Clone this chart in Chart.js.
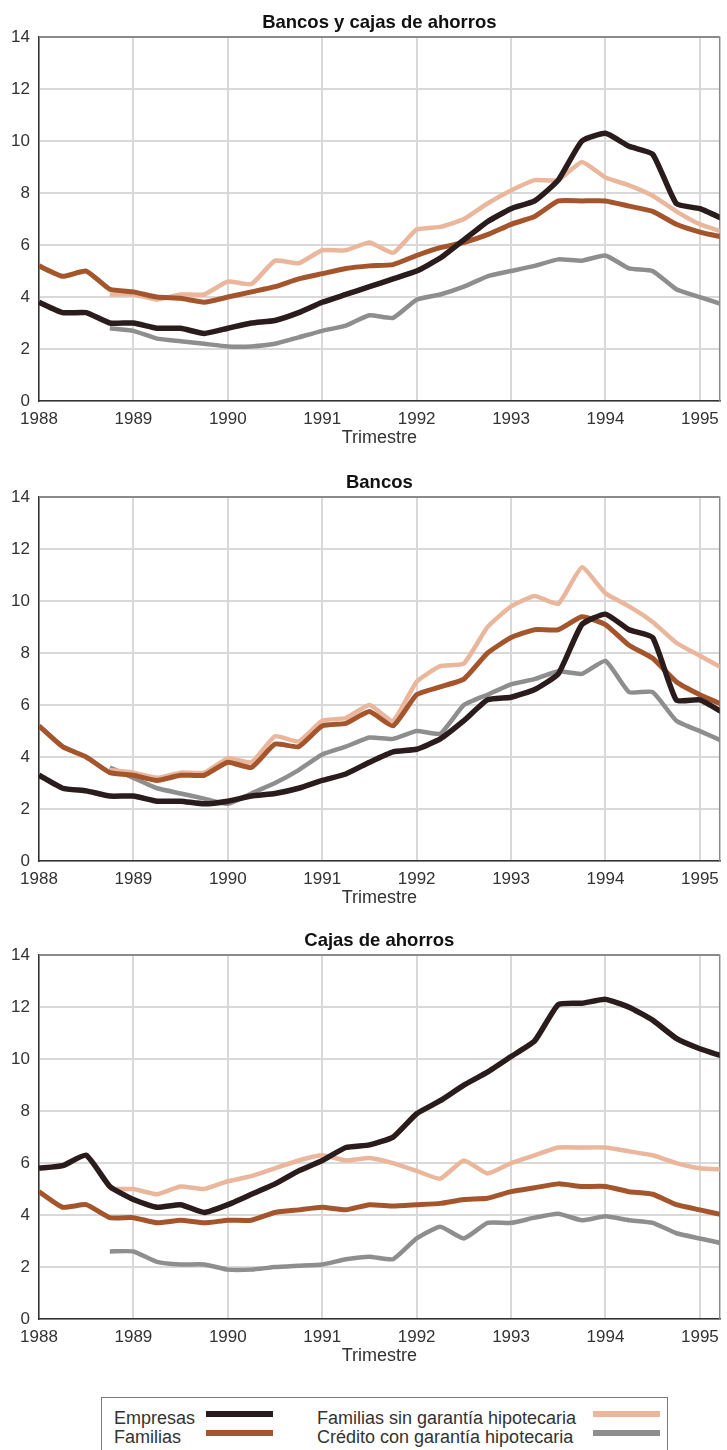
<!DOCTYPE html>
<html>
<head>
<meta charset="utf-8">
<script src="https://cdn.jsdelivr.net/npm/chart.js@4.4.1/dist/chart.umd.min.js"></script>
<style>
  body { margin: 0; background: #fff; width: 727px; height: 1450px; overflow: hidden; position: relative; }
  canvas { position: absolute; left: 0; }
  #legend {
    position: absolute; left: 101px; top: 1397px; width: 567px; height: 70px;
    border: 1px solid #7a7a7a; box-sizing: border-box;
    font: 18px "Liberation Sans", Arial, sans-serif; color: #333;
  }
  .item { position: absolute; line-height: 19px; white-space: nowrap; }
  .sw { position: absolute; height: 6px; }
</style>
</head>
<body>
<canvas id="chartTotal" width="727" height="447" style="top:0"></canvas>
<canvas id="chartBancos" width="727" height="447" style="top:460px"></canvas>
<canvas id="chartCajas" width="727" height="447" style="top:918px"></canvas>
<div id="legend"></div>

<script>
// trimestres 1988-I .. 1995-II
const quarters = [1988, 1988.25, 1988.5, 1988.75, 1989, 1989.25, 1989.5, 1989.75,
  1990, 1990.25, 1990.5, 1990.75, 1991, 1991.25, 1991.5, 1991.75,
  1992, 1992.25, 1992.5, 1992.75, 1993, 1993.25, 1993.5, 1993.75,
  1994, 1994.25, 1994.5, 1994.75, 1995, 1995.25];
const yearTicks = [1988, 1989, 1990, 1991, 1992, 1993, 1994, 1995];

const seriesNames = ["Empresas", "Familias", "Familias sin garantía hipotecaria", "Crédito con garantía hipotecaria"];
const seriesColors = ["#2a1c1c", "#a5552c", "#eab69c", "#8e8e8e"];

// Bancos y cajas de ahorros
const empresasTotal = [3.8, 3.4, 3.4, 3.0, 3.0, 2.8, 2.8, 2.6, 2.8, 3.0, 3.1, 3.4, 3.8, 4.1, 4.4, 4.7, 5.0, 5.5, 6.2, 6.9, 7.4, 7.7, 8.5, 10.0, 10.3, 9.8, 9.5, 7.6, 7.4, 7.0];
const familiasTotal = [5.2, 4.8, 5.0, 4.3, 4.2, 4.0, 3.95, 3.8, 4.0, 4.2, 4.4, 4.7, 4.9, 5.1, 5.2, 5.25, 5.6, 5.9, 6.1, 6.4, 6.8, 7.1, 7.7, 7.7, 7.7, 7.5, 7.3, 6.8, 6.5, 6.3];
const sinGarantiaTotal = [null, null, null, 4.1, 4.1, 3.9, 4.1, 4.1, 4.6, 4.5, 5.4, 5.3, 5.8, 5.8, 6.1, 5.7, 6.6, 6.7, 7.0, 7.6, 8.1, 8.5, 8.5, 9.2, 8.6, 8.3, 7.9, 7.3, 6.8, 6.5];
const hipotecarioTotal = [null, null, null, 2.8, 2.7, 2.4, 2.3, 2.2, 2.1, 2.1, 2.2, 2.45, 2.7, 2.9, 3.3, 3.2, 3.9, 4.1, 4.4, 4.8, 5.0, 5.2, 5.45, 5.4, 5.6, 5.1, 5.0, 4.3, 4.0, 3.7];

// Bancos
const empresasBancos = [3.3, 2.8, 2.7, 2.5, 2.5, 2.3, 2.3, 2.2, 2.3, 2.5, 2.6, 2.8, 3.1, 3.35, 3.8, 4.2, 4.3, 4.7, 5.4, 6.2, 6.3, 6.6, 7.2, 9.1, 9.5, 8.9, 8.6, 6.2, 6.2, 5.7];
const familiasBancos = [5.2, 4.4, 4.0, 3.4, 3.3, 3.1, 3.3, 3.3, 3.8, 3.6, 4.5, 4.4, 5.2, 5.3, 5.75, 5.2, 6.4, 6.7, 7.0, 8.0, 8.6, 8.9, 8.9, 9.4, 9.1, 8.3, 7.8, 6.9, 6.4, 6.0];
const sinGarantiaBancos = [null, null, null, 3.5, 3.4, 3.2, 3.4, 3.4, 3.95, 3.8, 4.8, 4.6, 5.4, 5.5, 6.0, 5.4, 6.9, 7.5, 7.6, 9.0, 9.8, 10.2, 9.9, 11.3, 10.3, 9.8, 9.2, 8.4, 7.9, 7.4];
const hipotecarioBancos = [null, null, null, 3.6, 3.2, 2.8, 2.6, 2.4, 2.2, 2.6, 3.0, 3.5, 4.1, 4.4, 4.75, 4.7, 5.0, 4.9, 6.0, 6.4, 6.8, 7.0, 7.3, 7.2, 7.7, 6.5, 6.5, 5.4, 5.0, 4.6];

// Cajas de ahorros
const empresasCajas = [5.8, 5.9, 6.3, 5.1, 4.6, 4.3, 4.4, 4.1, 4.4, 4.8, 5.2, 5.7, 6.1, 6.6, 6.7, 7.0, 7.9, 8.4, 9.0, 9.5, 10.1, 10.7, 12.1, 12.15, 12.3, 12.0, 11.5, 10.8, 10.4, 10.1];
const familiasCajas = [4.9, 4.3, 4.4, 3.9, 3.9, 3.7, 3.8, 3.7, 3.8, 3.8, 4.1, 4.2, 4.3, 4.2, 4.4, 4.35, 4.4, 4.45, 4.6, 4.65, 4.9, 5.05, 5.2, 5.1, 5.1, 4.9, 4.8, 4.4, 4.2, 4.0];
const sinGarantiaCajas = [null, null, null, 5.0, 5.0, 4.8, 5.1, 5.0, 5.3, 5.5, 5.8, 6.1, 6.3, 6.1, 6.2, 6.0, 5.7, 5.4, 6.1, 5.6, 6.0, 6.3, 6.6, 6.6, 6.6, 6.45, 6.3, 6.0, 5.8, 5.75];
const hipotecarioCajas = [null, null, null, 2.6, 2.6, 2.2, 2.1, 2.1, 1.9, 1.9, 2.0, 2.05, 2.1, 2.3, 2.4, 2.3, 3.1, 3.55, 3.1, 3.7, 3.7, 3.9, 4.05, 3.8, 3.95, 3.8, 3.7, 3.3, 3.1, 2.9];

const FONT = '"Liberation Sans", Arial, sans-serif';
const widths = [5.5, 5, 4.5, 4.5];

// marco superior y derecho del area de trazado
const framePlugin = {
  id: "frame",
  beforeDatasetsDraw(chart) {
    const { ctx, chartArea: a } = chart;
    ctx.save();
    ctx.strokeStyle = "#8a8a8a";
    ctx.lineWidth = 1.5;
    ctx.beginPath();
    ctx.moveTo(a.left, a.top);
    ctx.lineTo(a.right, a.top);
    ctx.lineTo(a.right, a.bottom);
    ctx.stroke();
    ctx.restore();
  },
};

function makeChart(canvasId, title, values) {
  const ctx = document.getElementById(canvasId).getContext("2d");
  return new Chart(ctx, {
    type: "line",
    data: {
      datasets: values.map((vals, i) => ({
        label: seriesNames[i],
        data: quarters.map((q, j) => ({ x: q, y: vals[j] })),
        borderColor: seriesColors[i],
        borderWidth: widths[i],
        pointRadius: 0,
        tension: 0.15,
        borderJoinStyle: "round",
        clip: 0,
      })),
    },
    options: {
      responsive: false,
      animation: false,
      layout: { padding: { left: 0, right: 4, top: 0, bottom: 0 } },
      plugins: {
        legend: { display: false },
        tooltip: { enabled: false },
        title: {
          display: true,
          fullSize: false,
          text: title,
          color: "#111",
          font: { family: FONT, size: 18.5, weight: "bold" },
          padding: { top: 12, bottom: 3 },
        },
      },
      scales: {
        x: {
          type: "linear",
          min: 1988,
          max: 1995.21,
          afterBuildTicks: (scale) => {
            scale.ticks = yearTicks.map((v) => ({ value: v }));
          },
          afterFit: (scale) => { scale.height = 46; },
          ticks: {
            callback: (v) => String(v),
            color: "#333",
            padding: 8,
            maxRotation: 0,
            autoSkip: false,
            font: { family: FONT, size: 17 },
          },
          grid: { color: "#d9d9d9", lineWidth: 2, drawTicks: false },
          border: { color: "#333", width: 1.5 },
          title: {
            display: true,
            text: "Trimestre",
            color: "#333",
            font: { family: FONT, size: 18, lineHeight: 1 },
            padding: { top: 0, bottom: 0 },
          },
        },
        y: {
          min: 0,
          max: 14,
          afterFit: (scale) => { scale.width = 39; },
          ticks: {
            stepSize: 2,
            color: "#333",
            padding: 9,
            font: { family: FONT, size: 17 },
          },
          grid: {
            color: (c) => (c.tick && c.tick.value === 14 ? "#8a8a8a" : "#d9d9d9"),
            lineWidth: (c) => (c.tick && c.tick.value === 14 ? 1.5 : 2),
            drawTicks: false,
          },
          border: { color: "#333", width: 1.5 },
        },
      },
    },
    plugins: [framePlugin],
  });
}

makeChart("chartTotal", "Bancos y cajas de ahorros", [empresasTotal, familiasTotal, sinGarantiaTotal, hipotecarioTotal]);
makeChart("chartBancos", "Bancos", [empresasBancos, familiasBancos, sinGarantiaBancos, hipotecarioBancos]);
makeChart("chartCajas", "Cajas de ahorros", [empresasCajas, familiasCajas, sinGarantiaCajas, hipotecarioCajas]);

// leyenda
const legend = document.getElementById("legend");
const legendSlots = [
  { text: [12, 11], sw: [104, 13] },
  { text: [12, 30], sw: [104, 32] },
  { text: [215, 11], sw: [491, 13] },
  { text: [215, 30], sw: [491, 32] },
];
seriesNames.forEach((name, i) => {
  const slot = legendSlots[i];
  const label = document.createElement("div");
  label.className = "item";
  label.style.left = slot.text[0] + "px";
  label.style.top = slot.text[1] + "px";
  label.textContent = name;
  legend.appendChild(label);
  const sw = document.createElement("div");
  sw.className = "sw";
  sw.style.left = slot.sw[0] + "px";
  sw.style.top = slot.sw[1] + "px";
  sw.style.width = "67px";
  sw.style.background = seriesColors[i];
  legend.appendChild(sw);
});
</script>
</body>
</html>
